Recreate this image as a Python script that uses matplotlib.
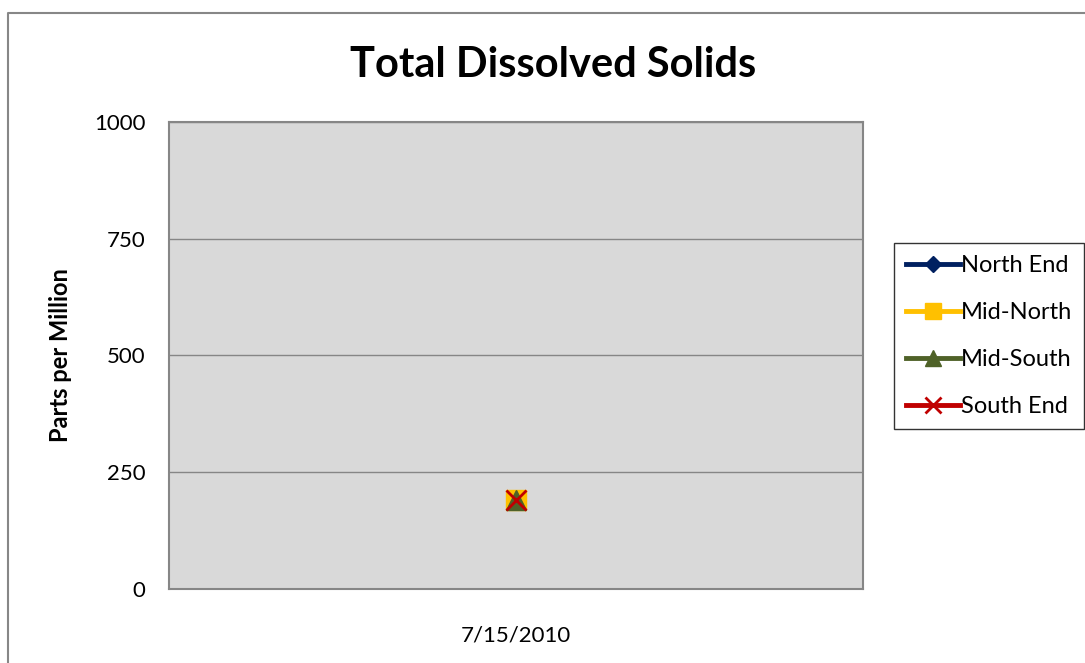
import matplotlib.pyplot as plt
from matplotlib.lines import Line2D

dates = ["7/15/2010"]
north_end = [190]
mid_north = [190]
mid_south = [190]
south_end = [190]
series = [
    ("North End", north_end, "#002060", "D"),
    ("Mid-North", mid_north, "#FFC000", "s"),
    ("Mid-South", mid_south, "#4F6228", "^"),
    ("South End", south_end, "#C00000", "x"),
]
yticks = [0, 250, 500, 750, 1000]

plt.rcParams["font.family"] = ["Lato", "DejaVu Sans"]

fig = plt.figure(figsize=(10.85, 6.63), dpi=100)
ax = fig.add_axes([169 / 1085, 74 / 663, 694 / 1085, 467 / 663])
ax.set_facecolor("#D9D9D9")

ms = 14
for label, vals, color, marker in series:
    mew = 2 if marker == "x" else 1
    size = ms / 1.414 if marker == "D" else ms
    ax.plot(range(len(dates)), vals, color=color, lw=3.5, marker=marker,
            markersize=size, markeredgewidth=mew, label=label)

ax.set_xlim(-0.5, len(dates) - 0.5)
ax.set_ylim(0, 1000)
ax.set_yticks(yticks)
ax.set_xticks(range(len(dates)))
ax.set_xticklabels(dates)
ax.yaxis.grid(True, color="#868686", lw=1)
ax.set_axisbelow(True)
ax.tick_params(axis="both", length=0, labelsize=16)
ax.tick_params(axis="y", pad=17)
ax.tick_params(axis="x", pad=26)
for s in ax.spines.values():
    s.set_color("#868686")
    s.set_linewidth(1.5)

ax.set_ylabel("Parts per Million", fontsize=17, fontweight="bold", labelpad=16)
fig.text(553 / 1085, 1 - 65 / 663, "Total Dissolved Solids", fontsize=30,
         fontweight="bold", ha="center", va="center")

leg = fig.legend(loc="center left", bbox_to_anchor=(894 / 1085, 1 - 336 / 663),
                 fontsize=17, frameon=True, fancybox=False, handlelength=2.3,
                 handletextpad=0.05, labelspacing=1.1, borderpad=0.5,
                 borderaxespad=0)
leg.get_frame().set_edgecolor("black")
leg.get_frame().set_linewidth(1)
for h in leg.legend_handles:
    if h.get_marker() == "D":
        h.set_markersize(8.5)
    else:
        h.set_markersize(12)

# outer chart border (left and top edges only are visible)
x0 = 8 / 1085
y0 = 1 - 13 / 663
fig.add_artist(Line2D([x0, x0, 1], [0, y0, y0], transform=fig.transFigure,
                      color="#878787", lw=1.5))

fig.savefig("out.png", dpi=100, facecolor="white")
